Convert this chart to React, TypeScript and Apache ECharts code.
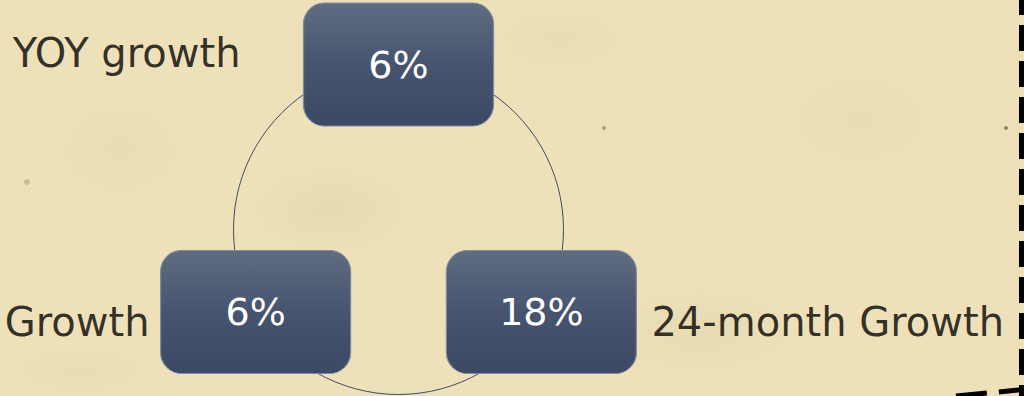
import React, { useEffect, useRef } from "react";
import * as echarts from "echarts";

const names = ["YOY growth", "24-month Growth", "Growth"];
const values = [6, 18, 6];

const BOX_PATH =
  "path://M21,0 H169 A21,21 0 0 1 190,21 V102 A21,21 0 0 1 169,123 H21 A21,21 0 0 1 0,102 V21 A21,21 0 0 1 21,0 Z";

const nameLabelStyles = [
  { position: "left", distance: 63, offset: [0, -12] },
  { position: "right", distance: 15, offset: [0, 10] },
  { position: "left", distance: 11, offset: [0, 10] },
];

export default function App() {
  const ref = useRef<HTMLDivElement>(null);
  useEffect(() => {
    document.body.style.margin = "0";
    const chart = echarts.init(ref.current!, null, { renderer: "svg" });
    const blotches = [
      { cx: 330, cy: 210, rx: 90, ry: 50, a: 0.08 },
      { cx: 700, cy: 330, rx: 110, ry: 50, a: 0.07 },
      { cx: 860, cy: 120, rx: 90, ry: 60, a: 0.05 },
      { cx: 120, cy: 150, rx: 80, ry: 60, a: 0.05 },
      { cx: 560, cy: 40, rx: 80, ry: 40, a: 0.05 },
      { cx: 80, cy: 370, rx: 90, ry: 30, a: 0.05 },
    ];
    const graphics: any[] = [
      ...blotches.map((b) => ({
        type: "ellipse",
        z: -10,
        silent: true,
        shape: { cx: b.cx, cy: b.cy, rx: b.rx, ry: b.ry },
        style: {
          fill: {
            type: "radial",
            x: 0.5,
            y: 0.5,
            r: 0.5,
            colorStops: [
              { offset: 0, color: `rgba(150,130,90,${b.a})` },
              { offset: 1, color: "rgba(150,130,90,0)" },
            ],
          },
        },
      })),
      { type: "circle", z: -5, silent: true, shape: { cx: 27, cy: 182, r: 3 }, style: { fill: "rgba(120,100,60,0.3)" } },
      { type: "circle", z: -5, silent: true, shape: { cx: 604, cy: 128, r: 2 }, style: { fill: "rgba(90,80,60,0.45)" } },
      { type: "circle", z: -5, silent: true, shape: { cx: 1006, cy: 128, r: 2 }, style: { fill: "rgba(60,60,60,0.55)" } },
      {
        type: "line",
        silent: true,
        shape: { x1: 1021.5, y1: 0, x2: 1021.5, y2: 396 },
        style: { stroke: "#000", lineWidth: 5, lineDash: [26, 10], lineDashOffset: 11 },
      },
      {
        type: "line",
        silent: true,
        shape: { x1: 956, y1: 396, x2: 1024, y2: 389.5 },
        style: { stroke: "#000", lineWidth: 5, lineDash: [31, 12] },
      },
    ];

    const fill = {
      type: "linear",
      x: 0,
      y: 0,
      x2: 0,
      y2: 1,
      colorStops: [
        { offset: 0, color: "#606c80" },
        { offset: 0.5, color: "#46546f" },
        { offset: 1, color: "#3b4964" },
      ],
    };

    chart.setOption({
      animation: false,
      backgroundColor: "#eee1ba",
      textStyle: { fontFamily: "DejaVu Sans" },
      graphic: { elements: graphics },
      polar: { center: [398.5, 229.5], radius: 165 },
      angleAxis: {
        type: "category",
        data: names,
        startAngle: 150,
        clockwise: true,
        axisLine: { show: true, lineStyle: { color: "#3f4c69", width: 1 } },
        axisTick: { show: false },
        axisLabel: { show: false },
        splitLine: { show: false },
      },
      radiusAxis: {
        type: "value",
        min: 0,
        max: 1,
        show: false,
        axisLine: { show: false },
        splitLine: { show: false },
        axisLabel: { show: false },
        axisTick: { show: false },
      },
      series: [
        {
          type: "scatter",
          coordinateSystem: "polar",
          symbol: BOX_PATH,
          symbolSize: [190, 123],
          itemStyle: { color: fill, borderColor: "#7e8aa0", borderWidth: 1, opacity: 1 },
          label: {
            show: true,
            position: "inside",
            color: "#ffffff",
            fontSize: 38,
            fontFamily: "DejaVu Sans",
            formatter: (p: any) => `${p.value[2]}%`,
          },
          emphasis: { disabled: true },
          data: values.map((v, i) => ({ name: names[i], value: [1, i, v] })),
          z: 3,
        },
        {
          type: "scatter",
          coordinateSystem: "polar",
          symbol: "rect",
          symbolSize: [190, 123],
          itemStyle: { color: "rgba(0,0,0,0)" },
          emphasis: { disabled: true },
          data: names.map((n, i) => ({
            name: n,
            value: [1, i],
            label: {
              show: true,
              color: "#000000",
              fontSize: 40,
              fontFamily: "DejaVu Sans",
              formatter: n,
              position: nameLabelStyles[i].position,
              distance: nameLabelStyles[i].distance,
              offset: nameLabelStyles[i].offset,
            },
          })),
          z: 4,
        },
      ],
    } as any);
    return () => chart.dispose();
  }, []);
  return (
    <div
      ref={ref}
      style={{ position: "fixed", left: 0, top: 0, width: 1024, height: 396 }}
    />
  );
}
